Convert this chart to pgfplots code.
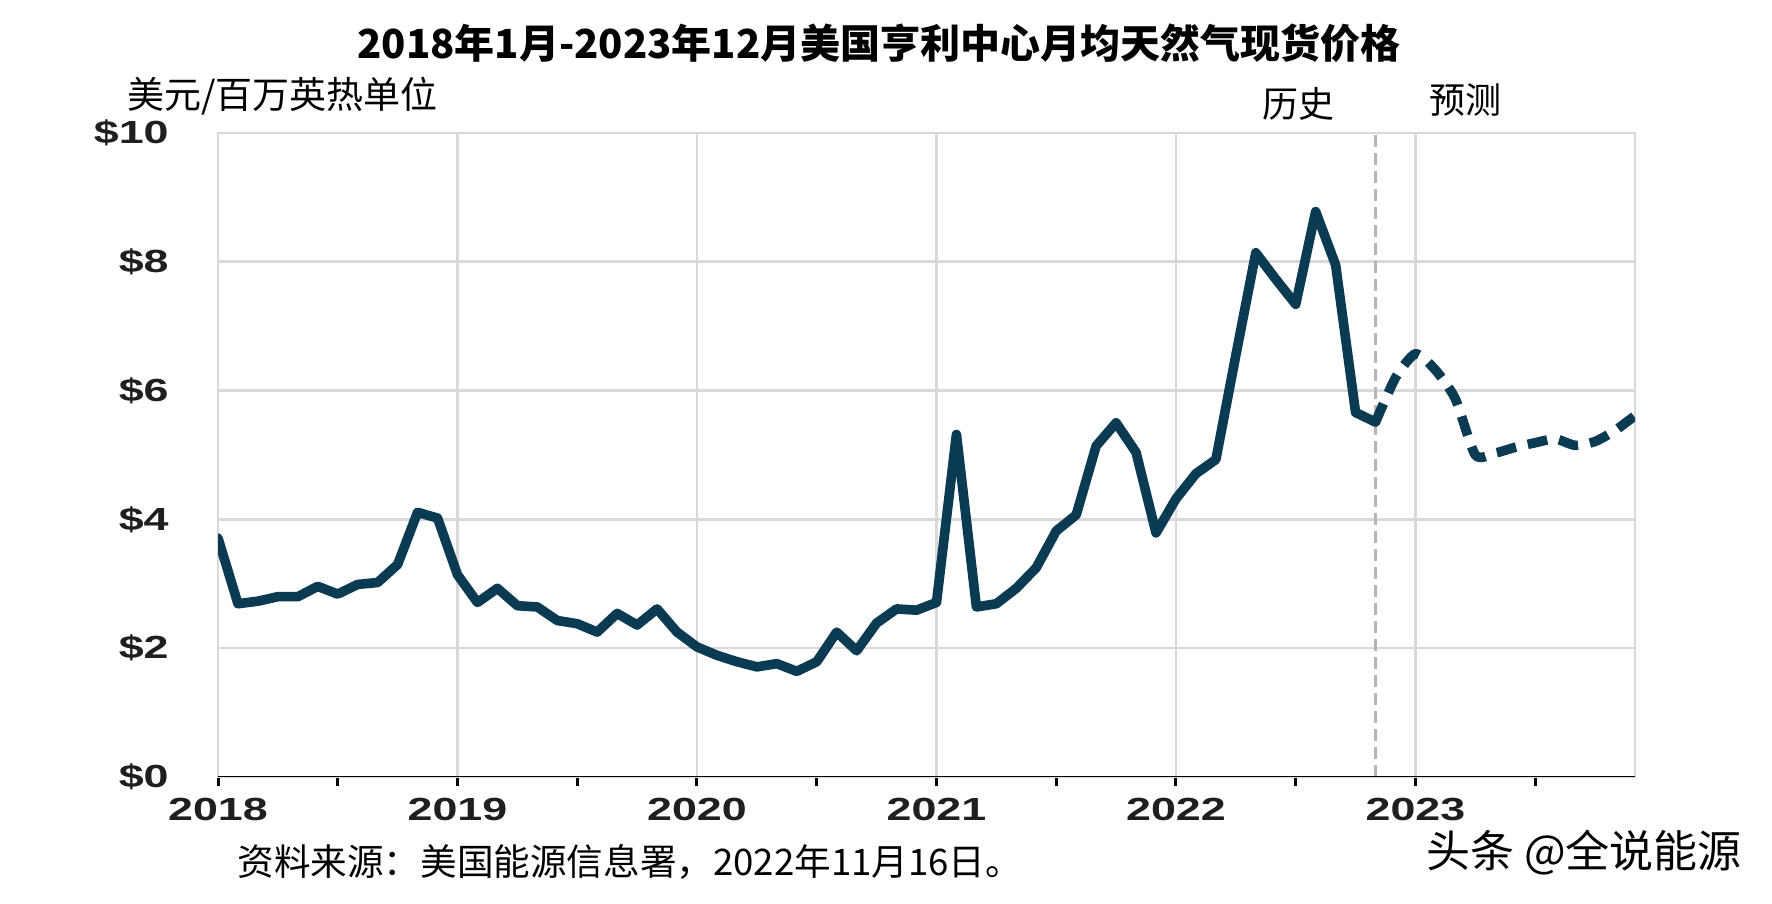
\documentclass[border=0pt]{standalone}
\usepackage{pgfplots}
\pgfplotsset{compat=1.18}
\usepackage{fontspec}
\setmainfont{Liberation Sans}
\newfontfamily\cjk{Noto Sans CJK SC}
\newfontfamily\tickfont{Liberation Sans}[FakeStretch=1.4]
\definecolor{navy}{HTML}{0B3A53}
\definecolor{gridc}{HTML}{D9D9D9}

\pgfplotstableread{
m v
0 3.71
1 2.69
2 2.73
3 2.80
4 2.80
5 2.96
6 2.84
7 2.99
8 3.02
9 3.30
10 4.11
11 4.02
12 3.14
13 2.71
14 2.93
15 2.66
16 2.64
17 2.43
18 2.38
19 2.25
20 2.54
21 2.36
22 2.61
23 2.25
24 2.02
25 1.89
26 1.79
27 1.71
28 1.76
29 1.64
30 1.79
31 2.25
32 1.96
33 2.39
34 2.61
35 2.59
36 2.71
37 5.32
38 2.64
39 2.69
40 2.93
41 3.25
42 3.82
43 4.07
44 5.14
45 5.50
46 5.04
47 3.79
48 4.32
49 4.71
50 4.93
51 6.55
52 8.14
53 7.73
54 7.34
55 8.78
56 7.95
57 5.66
58 5.51
}\history

\pgfplotstableread{
m v
58 5.51
59 6.20
60 6.57
61 6.32
62 5.87
63 5.00
64 5.03
65 5.12
66 5.19
67 5.25
68 5.15
69 5.21
70 5.38
71 5.61
}\forecast

\begin{document}
\begin{tikzpicture}
\path[use as bounding box] (0pt,0pt) rectangle (886pt,452pt);
\begin{axis}[
  at={(109pt,63.5pt)}, anchor=south west,
  scale only axis, width=708.5pt, height=322pt,
  xmin=0, xmax=71, ymin=0, ymax=10,
  xtick={0,12,24,36,48,60},
  xticklabels={2018,2019,2020,2021,2022,2023},
  minor xtick={6,18,30,42,54,66},
  xtick pos=bottom,
  ytick={0,2,4,6,8,10},
  yticklabels={\$0,\$2,\$4,\$6,\$8,\$10},
  xmajorgrids, ymajorgrids,
  major grid style={draw=gridc, line width=1.3pt},
  axis line style={draw=gridc, line width=1.3pt},
  tick align=outside,
  major tick length=4.5pt, minor tick length=4.5pt,
  xtick style={draw=black, line width=1.5pt},
  minor tick style={draw=black, line width=1.5pt},
  ytick style={draw=none},
  xticklabel style={anchor=north, inner sep=0pt, yshift=-6pt,
    font=\tickfont\bfseries\fontsize{16}{16}\selectfont, text=black!88},
  yticklabel style={anchor=east, inner sep=0pt, xshift=-20pt,
    font=\tickfont\bfseries\fontsize{16}{16}\selectfont, text=black!88},
]
\draw[gridc!60!gray, line width=1.3pt, dash pattern=on 6pt off 3pt]
  (axis cs:58,0) -- (axis cs:58,10);
\draw[black, line width=1.4pt] (rel axis cs:0,0) -- (rel axis cs:1,0);
\addplot[navy, line width=4.8pt, line join=round, line cap=round, mark=none]
  table[x=m, y=v] {\history};
\addplot[navy, line width=4.8pt, smooth, tension=0.4, mark=none,
  dash pattern=on 10pt off 6pt]
  table[x=m, y=v] {\forecast};
\end{axis}
\node[font=\cjk\bfseries\fontsize{20}{22}\selectfont, anchor=center]
  at (439.5pt,430.5pt) {2018年1月-2023年12月美国亨利中心月均天然气现货价格};
\node[font=\cjk\fontsize{18.5}{20}\selectfont, anchor=west, inner sep=0pt]
  at (63.5pt,404pt) {美元/百万英热单位};
\node[font=\cjk\fontsize{18}{20}\selectfont, anchor=center, inner sep=0pt]
  at (649pt,400pt) {历史};
\node[font=\cjk\fontsize{18}{20}\selectfont, anchor=center, inner sep=0pt]
  at (732.5pt,402pt) {预测};
\node[font=\cjk\fontsize{18.3}{20}\selectfont, anchor=west, inner sep=0pt]
  at (118.5pt,21pt) {资料来源：美国能源信息署，2022年11月16日。};
\node[font=\cjk\fontsize{22}{24}\selectfont, anchor=center, inner sep=0pt]
  at (792pt,25.5pt) {头条 @全说能源};
\end{tikzpicture}
\end{document}
